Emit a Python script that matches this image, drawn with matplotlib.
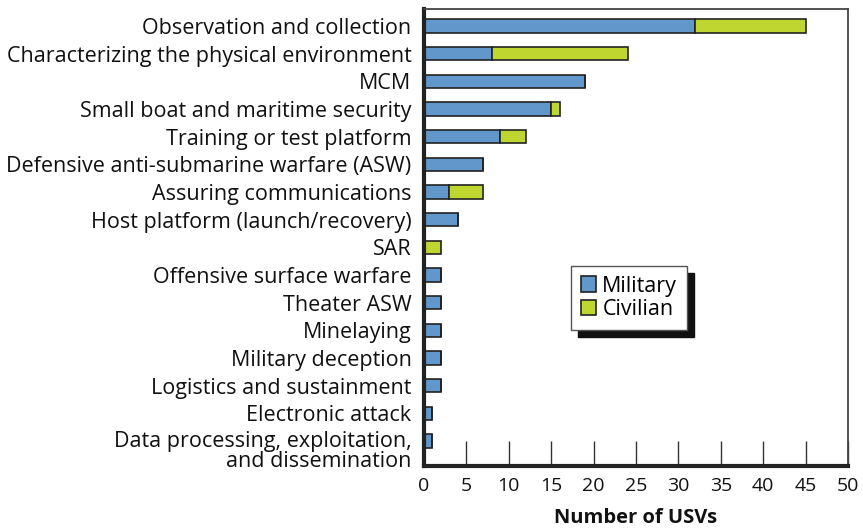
import numpy as np
import matplotlib.pyplot as plt
from matplotlib.transforms import ScaledTranslation

plt.rcParams['font.family'] = ['Open Sans', 'DejaVu Sans']

# categories, top to bottom
misiuni = ['Observation and collection',
           'Characterizing the physical environment',
           'MCM',
           'Small boat and maritime security',
           'Training or test platform',
           'Defensive anti-submarine warfare (ASW)',
           'Assuring communications',
           'Host platform (launch/recovery)',
           'SAR',
           'Offensive surface warfare',
           'Theater ASW',
           'Minelaying',
           'Military deception',
           'Logistics and sustainment',
           'Electronic attack',
           'Data processing, exploitation,\nand dissemination']
militar = [32, 8, 19, 15, 9, 7, 3, 4, 0, 2, 2, 2, 2, 2, 1, 1]
civil = [13, 16, 0, 1, 3, 0, 4, 0, 2, 0, 0, 0, 0, 0, 0, 0]

albastru = '#6197CA'
verde = '#BED62F'
contur = '#222222'

fig = plt.figure(figsize=(8.63, 5.30), dpi=100)
ax = fig.add_axes([0.4913, 0.1208, 0.4913, 0.8622])

y = np.arange(len(misiuni))
ax.barh(y, militar, height=0.48, color=albastru, edgecolor=contur, linewidth=1.2, label='Military')
ax.barh(y, civil, left=militar, height=0.48, color=verde, edgecolor=contur, linewidth=1.2, label='Civilian')

ax.set_xlim(0, 50)
ax.set_ylim(len(misiuni) - 1 + 0.9, -0.61)
ax.set_xticks(np.arange(0, 51, 5))
ax.set_yticks(y)
ax.set_yticklabels(misiuni, fontsize=15.5, linespacing=0.95, color='#111111')
ax.tick_params(axis='y', length=0, pad=9)
ax.tick_params(axis='x', direction='in', length=18, width=1.0, labelsize=14, pad=8,
               color='#333333', labelcolor='#111111')
# ultima eticheta pe doua randuri, coborata putin
ultima = ax.get_yticklabels()[-1]
ultima.set_transform(ultima.get_transform() + ScaledTranslation(0, -6 / 72, fig.dpi_scale_trans))

ax.spines['left'].set_linewidth(3)
ax.spines['bottom'].set_linewidth(3)
ax.spines['left'].set_color('#222222')
ax.spines['bottom'].set_color('#222222')
ax.spines['top'].set_linewidth(1.3)
ax.spines['right'].set_linewidth(1.3)
ax.spines['top'].set_color('#444444')
ax.spines['right'].set_color('#444444')

ax.set_xlabel('Number of USVs', fontsize=14.5, fontweight='bold', labelpad=9, color='#111111')

leg = ax.legend(loc='upper left', bbox_to_anchor=(0.347, 0.438), borderaxespad=0,
                fontsize=15.5, frameon=True, fancybox=False,
                shadow={'ox': 5, 'oy': -5, 'facecolor': '#111111', 'edgecolor': '#111111', 'alpha': 1},
                handlelength=0.7, handleheight=0.7, handletextpad=0.3,
                labelspacing=0.12, borderpad=0.45)
leg.get_frame().set_edgecolor('#555555')
leg.get_frame().set_linewidth(1.0)

plt.savefig('out.png', dpi=100)
